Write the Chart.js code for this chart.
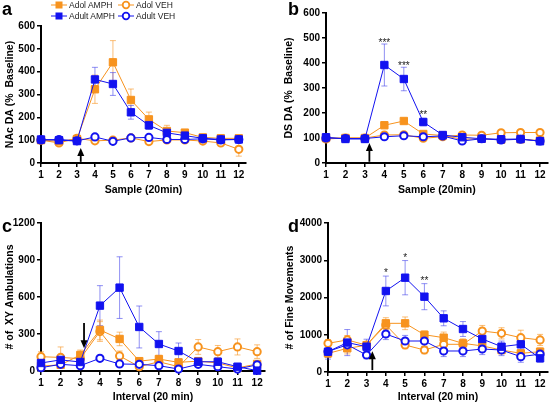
<!DOCTYPE html>
<html>
<head>
<meta charset="utf-8">
<script src="https://cdn.jsdelivr.net/npm/chart.js@4.4.1/dist/chart.umd.min.js"></script>
<style>
  body { margin: 0; background: #fff; width: 554px; height: 403px; position: relative; overflow: hidden;
         font-family: "Liberation Sans", Arial, sans-serif; }
  canvas { position: absolute; }
  .tag { position: absolute; font-weight: bold; font-size: 18px; line-height: 18px; color: #000; }
  .leg { position: absolute; height: 10px; display: flex; align-items: center; font-size: 8.5px; color: #222; white-space: nowrap; }
  .leg svg { margin-right: 2px; }
</style>
</head>
<body>
<canvas id="chartA" width="277" height="200" style="left:0;top:0"></canvas>
<canvas id="chartB" width="277" height="200" style="left:277px;top:0"></canvas>
<canvas id="chartC" width="277" height="203" style="left:0;top:200px"></canvas>
<canvas id="chartD" width="277" height="203" style="left:277px;top:200px"></canvas>
<div class="tag" style="left:2px;top:0">a</div>
<div class="tag" style="left:288px;top:0">b</div>
<div class="tag" style="left:2px;top:217px">c</div>
<div class="tag" style="left:288px;top:217px">d</div>
<div id="legend"></div>
<script>
// x values (20 min samples / intervals)
const samples = [1, 2, 3, 4, 5, 6, 7, 8, 9, 10, 11, 12];
const seriesNames = ['Adol AMPH', 'Adult AMPH', 'Adol VEH', 'Adult VEH'];

// a - NAc DA (% baseline)
const nacAdolAmph     = [100, 95, 105, 323, 441, 276, 191, 140, 133, 112, 108, 108];
const nacAdolAmphErr  = [10, 10, 10, 62, 95, 48, 32, 25, 12, 10, 15, 10];
const nacAdultAmph    = [103, 100, 96, 366, 346, 222, 165, 132, 120, 108, 103, 103];
const nacAdultAmphErr = [8, 8, 5, 53, 50, 30, 18, 15, 12, 10, 10, 8];
const nacAdolVeh      = [100, 88, 108, 97, 100, 110, 94, 101, 101, 96, 88, 60];
const nacAdolVehErr   = [8, 10, 8, 8, 5, 8, 8, 8, 8, 10, 10, 30];
const nacAdultVeh     = [101, 103, 97, 114, 95, 110, 112, 103, 103, 106, 101, 103];
const nacAdultVehErr  = [5, 5, 5, 8, 5, 5, 5, 5, 5, 5, 5, 5];

// b - DS DA (% baseline)
const dsAdolAmph      = [100, 100, 100, 151, 168, 116, 110, 95, 97, 93, 95, 90];
const dsAdolAmphErr   = [5, 5, 5, 8, 8, 8, 5, 5, 5, 5, 5, 5];
const dsAdultAmph     = [103, 96, 96, 392, 336, 164, 112, 103, 97, 95, 96, 87];
const dsAdultAmphErr  = [5, 5, 5, 84, 47, 15, 8, 15, 5, 5, 5, 5];
const dsAdolVeh       = [96, 100, 100, 112, 113, 99, 105, 112, 111, 121, 122, 122];
const dsAdolVehErr    = [5, 5, 5, 8, 5, 5, 5, 5, 5, 8, 8, 8];
const dsAdultVeh      = [100, 98, 98, 105, 109, 105, 108, 88, 97, 92, 95, 88];
const dsAdultVehErr   = [5, 5, 5, 5, 5, 5, 5, 10, 5, 5, 5, 5];

// c - # of XY ambulations
const xyAdolAmph      = [40, 50, 130, 333, 260, 80, 97, 70, 80, 65, 25, 57];
const xyAdolAmphErr   = [15, 20, 30, 80, 55, 20, 30, 20, 20, 20, 10, 20];
const xyAdultAmph     = [65, 90, 73, 530, 676, 357, 219, 162, 75, 75, 35, 3];
const xyAdultAmphErr  = [20, 40, 30, 162, 250, 170, 100, 65, 25, 30, 20, 10];
const xyAdolVeh       = [116, 110, 100, 320, 122, 35, 75, 35, 195, 157, 195, 157];
const xyAdolVehErr    = [40, 85, 70, 80, 40, 20, 40, 20, 60, 50, 65, 55];
const xyAdultVeh      = [27, 54, 43, 103, 57, 54, 43, 16, 54, 35, 16, 50];
const xyAdultVehErr   = [10, 20, 15, 15, 15, 15, 15, 10, 15, 10, 5, 15];

// d - # of fine movements
const fineAdolAmph     = [500, 635, 720, 1307, 1307, 1000, 922, 770, 700, 590, 501, 546];
const fineAdolAmphErr  = [100, 150, 100, 150, 170, 100, 150, 120, 100, 100, 80, 100];
const fineAdultAmph    = [546, 790, 680, 2175, 2532, 2022, 1441, 1154, 886, 680, 743, 367];
const fineAdultAmphErr = [200, 350, 200, 400, 460, 350, 200, 200, 200, 150, 150, 100];
const fineAdolVeh      = [770, 860, 720, 1262, 725, 590, 743, 744, 1100, 1038, 922, 860];
const fineAdolVehErr   = [100, 120, 100, 120, 100, 100, 100, 100, 150, 150, 200, 150];
const fineAdultVeh     = [550, 730, 456, 1020, 832, 832, 564, 564, 617, 590, 411, 480];
const fineAdultVehErr  = [150, 150, 100, 150, 150, 150, 150, 150, 150, 150, 150, 100];

// y tick labels
const yTicksDA = [0, 100, 200, 300, 400, 500, 600];
const yTicksXY = [0, 300, 600, 900, 1200];
const yTicksFine = [0, 1000, 2000, 3000, 4000];

const ORANGE = '#F7931E';
const BLUE = '#1212F0';
const styles = {
  'Adol AMPH':  { color: ORANGE, err: 'rgba(247,147,30,0.6)', shape: 'rect', order: 3 },
  'Adult AMPH': { color: BLUE, err: 'rgba(70,70,235,0.6)', shape: 'rect', order: 1 },
  'Adol VEH':   { color: ORANGE, err: 'rgba(247,147,30,0.6)', shape: 'circle', order: 4 },
  'Adult VEH':  { color: BLUE, err: 'rgba(70,70,235,0.6)', shape: 'circle', order: 2 }
};

function dataset(name, vals, errs) {
  const s = styles[name];
  const filled = s.shape === 'rect';
  return {
    label: name,
    data: samples.map((x, i) => ({ x: x, y: vals[i] })),
    errors: errs,
    errorColor: s.err,
    borderColor: s.color,
    backgroundColor: filled ? s.color : '#fff',
    borderWidth: 1,
    pointStyle: s.shape,
    pointRadius: filled ? 5.2 : 3.6,
    pointBorderWidth: filled ? 1 : 2,
    pointBackgroundColor: filled ? s.color : '#fff',
    pointBorderColor: s.color,
    tension: 0,
    clip: false,
    order: s.order
  };
}

// error bars, drawn under the lines and markers
const errorBars = {
  id: 'errorBars',
  beforeDatasetsDraw(chart) {
    const ctx = chart.ctx;
    const yScale = chart.scales.y;
    chart.data.datasets.forEach((ds, i) => {
      if (!ds.errors) return;
      const meta = chart.getDatasetMeta(i);
      ctx.save();
      ctx.strokeStyle = ds.errorColor;
      ctx.lineWidth = 1;
      meta.data.forEach((pt, j) => {
        const v = ds.data[j].y, e = ds.errors[j];
        const top = yScale.getPixelForValue(v + e);
        const bot = yScale.getPixelForValue(Math.max(0, v - e));
        ctx.beginPath();
        ctx.moveTo(pt.x, top); ctx.lineTo(pt.x, bot);
        ctx.moveTo(pt.x - 3, top); ctx.lineTo(pt.x + 3, top);
        ctx.moveTo(pt.x - 3, bot); ctx.lineTo(pt.x + 3, bot);
        ctx.stroke();
      });
      ctx.restore();
    });
  }
};

// injection arrow and significance stars
const marks = {
  id: 'marks',
  afterDatasetsDraw(chart, args, opts) {
    const ctx = chart.ctx;
    const xs = chart.scales.x, ys = chart.scales.y;
    ctx.save();
    if (opts.arrow) {
      const a = opts.arrow;
      const px = xs.getPixelForValue(a.x);
      const y0 = ys.getPixelForValue(a.from), y1 = ys.getPixelForValue(a.to);
      const dir = Math.sign(y1 - y0);
      ctx.strokeStyle = '#000';
      ctx.fillStyle = '#000';
      ctx.lineWidth = 1.8;
      ctx.beginPath();
      ctx.moveTo(px, y0); ctx.lineTo(px, y1 - dir * 5);
      ctx.stroke();
      ctx.beginPath();
      ctx.moveTo(px, y1);
      ctx.lineTo(px - 3.5, y1 - dir * 8);
      ctx.lineTo(px + 3.5, y1 - dir * 8);
      ctx.closePath();
      ctx.fill();
    }
    (opts.stars || []).forEach(s => {
      ctx.fillStyle = '#222';
      ctx.font = '10px "Liberation Sans", Arial, sans-serif';
      ctx.textAlign = 'center';
      ctx.textBaseline = 'alphabetic';
      ctx.fillText(s.text, xs.getPixelForValue(s.x), ys.getPixelForValue(s.y) + 6);
    });
    ctx.restore();
  }
};

const tickFont = { family: '"Liberation Sans", Arial, sans-serif', size: 10, weight: 'bold' };
const titleFont = { family: '"Liberation Sans", Arial, sans-serif', size: 10.5, weight: 'bold' };

function panel(id, cfg) {
  new Chart(document.getElementById(id), {
    type: 'line',
    data: { datasets: cfg.datasets },
    options: {
      responsive: false,
      animation: false,
      devicePixelRatio: 1,
      layout: { padding: cfg.pad },
      plugins: {
        legend: { display: false },
        tooltip: { enabled: false },
        marks: { arrow: cfg.arrow, stars: cfg.stars }
      },
      scales: {
        x: {
          type: 'linear', min: 1, max: 12.4,
          afterBuildTicks: s => { s.ticks = samples.map(v => ({ value: v })); },
          afterFit: s => { s.height = cfg.xh; },
          grid: { display: true, drawOnChartArea: false, drawTicks: true, tickLength: 4, color: '#000', lineWidth: 1.5 },
          border: { color: '#000', width: 2 },
          ticks: { font: tickFont, color: '#000', padding: 2, maxRotation: 0, autoSkip: false, callback: v => String(v) },
          title: { display: true, text: cfg.xTitle, font: titleFont, color: '#000', padding: { top: 0, bottom: cfg.xtp } }
        },
        y: {
          type: 'linear', min: 0, max: cfg.yTicks[cfg.yTicks.length - 1],
          afterBuildTicks: s => { s.ticks = cfg.yTicks.map(v => ({ value: v })); },
          afterFit: s => { s.width = cfg.yw; },
          grid: { display: true, drawOnChartArea: false, drawTicks: true, tickLength: 4, color: '#000', lineWidth: 1.5 },
          border: { color: '#000', width: 2 },
          ticks: { font: tickFont, color: '#000', padding: 2, callback: v => String(v) },
          title: { display: true, text: cfg.yTitle, font: titleFont, color: '#000', padding: { top: cfg.ytp, bottom: 0 } }
        }
      }
    },
    plugins: [errorBars, marks]
  });
}

panel('chartA', {
  datasets: [
    dataset(seriesNames[0], nacAdolAmph, nacAdolAmphErr),
    dataset(seriesNames[1], nacAdultAmph, nacAdultAmphErr),
    dataset(seriesNames[2], nacAdolVeh, nacAdolVehErr),
    dataset(seriesNames[3], nacAdultVeh, nacAdultVehErr)
  ],
  yTicks: yTicksDA, xTitle: 'Sample (20min)', yTitle: 'NAc DA (%  Baseline)',
  pad: { left: 0, top: 26, right: 31, bottom: 0 }, yw: 41, xh: 37, xtp: 4, ytp: 4,
  arrow: { x: 3.21, from: 5, to: 66 }
});

panel('chartB', {
  datasets: [
    dataset(seriesNames[0], dsAdolAmph, dsAdolAmphErr),
    dataset(seriesNames[1], dsAdultAmph, dsAdultAmphErr),
    dataset(seriesNames[2], dsAdolVeh, dsAdolVehErr),
    dataset(seriesNames[3], dsAdultVeh, dsAdultVehErr)
  ],
  yTicks: yTicksDA, xTitle: 'Sample (20min)', yTitle: 'DS DA (%  Baseline)',
  pad: { left: 0, top: 13, right: 5, bottom: 0 }, yw: 49, xh: 37, xtp: 4, ytp: 6,
  arrow: { x: 3.23, from: 5, to: 80 },
  stars: [
    { x: 4, y: 492, text: '***' },
    { x: 5, y: 400, text: '***' },
    { x: 6, y: 205, text: '**' }
  ]
});

panel('chartC', {
  datasets: [
    dataset(seriesNames[0], xyAdolAmph, xyAdolAmphErr),
    dataset(seriesNames[1], xyAdultAmph, xyAdultAmphErr),
    dataset(seriesNames[2], xyAdolVeh, xyAdolVehErr),
    dataset(seriesNames[3], xyAdultVeh, xyAdultVehErr)
  ],
  yTicks: yTicksXY, xTitle: 'Interval (20 min)', yTitle: '# of  XY Ambulations',
  pad: { left: 0, top: 23, right: 12, bottom: 0 }, yw: 41, xh: 32, xtp: 0, ytp: 4,
  arrow: { x: 3.19, from: 390, to: 185 }
});

panel('chartD', {
  datasets: [
    dataset(seriesNames[0], fineAdolAmph, fineAdolAmphErr),
    dataset(seriesNames[1], fineAdultAmph, fineAdultAmphErr),
    dataset(seriesNames[2], fineAdolVeh, fineAdolVehErr),
    dataset(seriesNames[3], fineAdultVeh, fineAdultVehErr)
  ],
  yTicks: yTicksFine, xTitle: 'Interval (20 min)', yTitle: '# of Fine Movements',
  pad: { left: 0, top: 23, right: 4, bottom: 0 }, yw: 51, xh: 31, xtp: 0, ytp: 7,
  arrow: { x: 3.30, from: 50, to: 560 },
  stars: [
    { x: 4, y: 2740, text: '*' },
    { x: 5, y: 3140, text: '*' },
    { x: 6, y: 2530, text: '**' }
  ]
});

// legend above panel a, two columns
const legendPos = {
  'Adol AMPH':  { left: 51, top: 0 },
  'Adult AMPH': { left: 51, top: 11 },
  'Adol VEH':   { left: 118, top: 0 },
  'Adult VEH':  { left: 118, top: 11 }
};
const legend = document.getElementById('legend');
seriesNames.forEach(name => {
  const s = styles[name];
  const p = legendPos[name];
  const marker = s.shape === 'rect'
    ? `<rect x="4.5" y="1.5" width="7" height="7" fill="${s.color}"/>`
    : `<circle cx="8" cy="5" r="3.3" fill="#fff" stroke="${s.color}" stroke-width="1.8"/>`;
  const item = document.createElement('div');
  item.className = 'leg';
  item.style.left = p.left + 'px';
  item.style.top = p.top + 'px';
  item.innerHTML = `<svg width="16" height="10"><line x1="0" y1="5" x2="16" y2="5" stroke="${s.color}" stroke-width="1"/>${marker}</svg><span>${name}</span>`;
  legend.appendChild(item);
});
</script>
</body>
</html>
